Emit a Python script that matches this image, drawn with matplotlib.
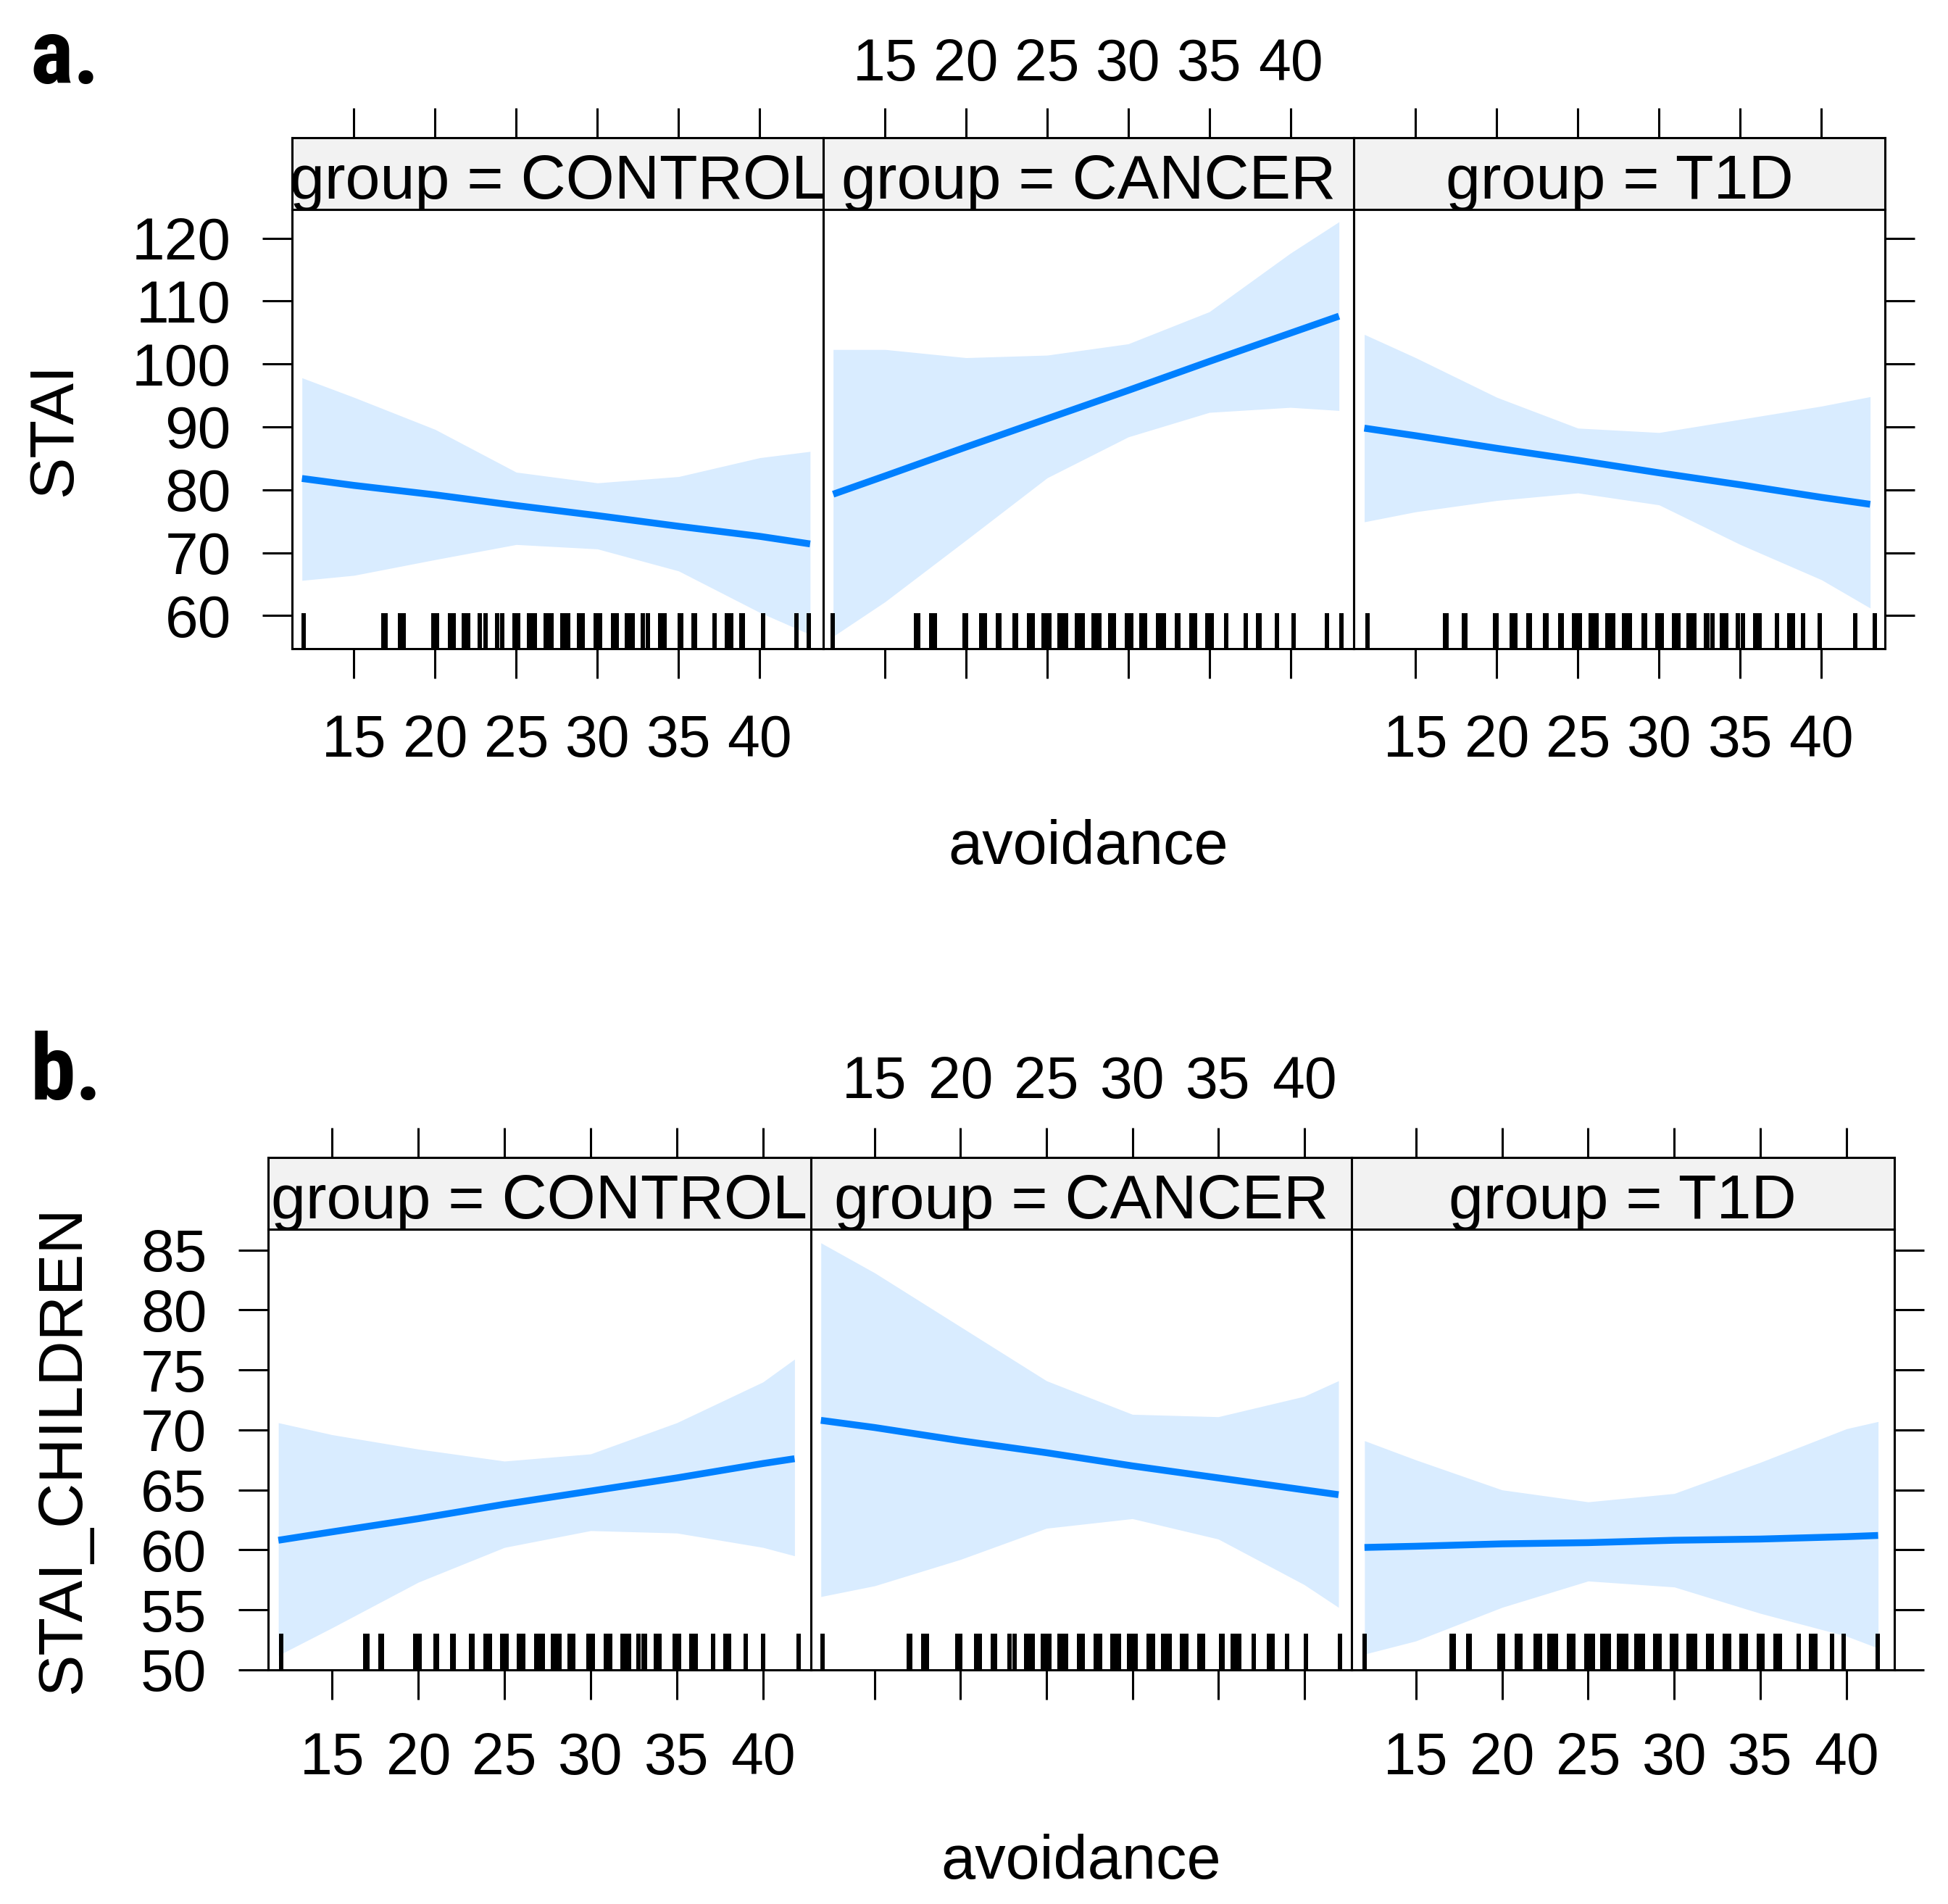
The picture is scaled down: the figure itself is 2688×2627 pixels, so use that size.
import matplotlib
matplotlib.use("Agg")
import matplotlib.pyplot as plt
from matplotlib import font_manager

plt.rcParams['font.family'] = ['Liberation Sans', 'DejaVu Sans']

# ---- data ---------------------------------------------------------------
groups = ["CONTROL", "CANCER", "T1D"]

# a. STAI ~ avoidance
stai_control_x = [11.8, 15, 20, 25, 30, 35, 40, 43.1]
stai_control_fit = [81.8, 80.7, 79.2, 77.5, 75.9, 74.2, 72.6, 71.4]
stai_control_lo = [65.6, 66.4, 68.9, 71.3, 70.6, 67.1, 60.5, 57.0]
stai_control_hi = [97.8, 94.7, 89.6, 82.8, 81.1, 82.1, 85.1, 86.1]

stai_cancer_x = [11.8, 15, 20, 25, 30, 35, 40, 43.0]
stai_cancer_fit = [79.3, 82.2, 86.8, 91.3, 95.8, 100.4, 104.9, 107.6]
stai_cancer_lo = [56.7, 62.2, 72.0, 81.9, 88.4, 92.3, 93.1, 92.6]
stai_cancer_hi = [102.3, 102.3, 101.0, 101.4, 103.2, 108.3, 117.6, 122.6]

stai_t1d_x = [11.84, 15, 20, 25, 30, 35, 40, 43.0]
stai_t1d_fit = [89.8, 88.6, 86.6, 84.7, 82.7, 80.8, 78.8, 77.7]
stai_t1d_lo = [74.9, 76.5, 78.3, 79.5, 77.6, 71.3, 65.7, 61.2]
stai_t1d_hi = [104.7, 101.0, 94.7, 89.8, 89.1, 91.2, 93.3, 94.8]

stai_control_rug = [11.91, 16.83, 16.93, 17.82, 18.06, 19.88, 20.12, 20.90, 21.14,
                    21.75, 22.03, 22.77, 23.11, 23.81, 24.13, 24.88, 25.12,
                    25.79, 25.97, 26.15, 26.81, 26.99, 27.17, 27.85, 28.03, 28.21,
                    28.86, 29.10, 29.90, 30.14, 30.96, 31.20, 31.81, 31.99, 32.17,
                    32.79, 33.11, 33.88, 34.12, 35.05, 35.15, 35.92, 36.02, 37.22,
                    37.99, 38.23, 38.86, 38.96, 40.19, 42.27, 43.0]
stai_cancer_rug = [11.77, 16.92, 17.04, 17.84, 18.08, 19.90, 20.0, 20.93, 21.17,
                   21.95, 22.05, 22.99, 23.09, 23.88, 24.12, 24.77, 24.95, 25.13,
                   25.78, 25.88, 26.16, 26.82, 27.0, 27.18, 27.86, 28.04, 28.22,
                   28.87, 29.11, 29.93, 30.17, 30.80, 31.04, 31.84, 32.02, 32.20,
                   32.99, 33.09, 33.89, 34.13, 34.89, 35.13, 36.05, 37.24, 38.01,
                   38.11, 39.19, 40.20, 42.26, 43.15]
stai_t1d_rug = [12.06, 16.81, 16.91, 17.98, 18.08, 19.88, 19.98, 20.92, 21.16,
                21.94, 22.04, 22.98, 23.08, 23.89, 23.99, 24.75, 24.93, 25.11,
                25.79, 25.97, 26.15, 26.81, 26.99, 27.17, 27.85, 27.95, 28.20,
                29.04, 29.14, 29.90, 30.14, 30.94, 31.18, 31.83, 32.01, 32.19,
                32.87, 32.97, 33.29, 33.88, 34.12, 34.85, 35.17, 35.94, 36.18,
                37.27, 38.01, 38.25, 38.87, 39.89, 42.09, 43.28]

# b. STAI_CHILDREN ~ avoidance
child_control_x = [11.88, 15, 20, 25, 30, 35, 40, 41.83]
child_control_fit = [60.8, 61.5, 62.6, 63.8, 64.9, 66.0, 67.2, 67.6]
child_control_lo = [51.2, 53.5, 57.3, 60.2, 61.6, 61.4, 60.2, 59.5]
child_control_hi = [70.6, 69.6, 68.4, 67.4, 68.0, 70.6, 74.0, 75.9]

child_cancer_x = [11.87, 15, 20, 25, 30, 35, 40, 42.0]
child_cancer_fit = [70.8, 70.2, 69.1, 68.1, 67.0, 66.0, 65.0, 64.6]
child_cancer_lo = [56.1, 57.0, 59.2, 61.8, 62.6, 60.9, 57.1, 55.2]
child_cancer_hi = [85.6, 83.1, 78.6, 74.1, 71.3, 71.1, 72.8, 74.1]

child_t1d_x = [12.02, 15, 20, 25, 30, 35, 40, 41.83]
child_t1d_fit = [60.2, 60.3, 60.5, 60.6, 60.8, 60.9, 61.1, 61.2]
child_t1d_lo = [51.3, 52.4, 55.2, 57.4, 56.9, 54.7, 52.8, 51.8]
child_t1d_hi = [69.1, 67.5, 65.0, 64.0, 64.7, 67.3, 70.1, 70.7]

child_control_rug = [12.06, 16.94, 17.04, 17.79, 17.89, 19.82, 20.09, 20.99, 21.09,
                     21.97, 22.07, 23.06, 23.16, 23.90, 24.14, 24.88, 25.12,
                     25.85, 26.09, 26.83, 27.02, 27.21, 27.81, 28.0, 28.19,
                     28.77, 29.01, 29.88, 30.12, 30.88, 31.12, 31.84, 32.03, 32.22,
                     32.76, 33.05, 33.17, 33.77, 34.01, 34.87, 35.12, 35.86, 36.09,
                     37.10, 37.81, 38.05, 39.01, 40.0, 42.07]
child_cancer_rug = [11.95, 16.97, 17.07, 17.85, 18.05, 19.80, 20.0, 20.91, 21.11,
                    21.89, 21.99, 22.83, 23.13, 23.83, 24.02, 24.21, 24.81, 25.0,
                    25.19, 25.78, 25.97, 26.16, 26.89, 27.13, 27.89, 28.13,
                    28.86, 29.05, 29.24, 29.81, 30.0, 30.19, 30.96, 31.20,
                    31.79, 31.98, 32.17, 32.89, 33.16, 33.89, 34.13, 35.15, 35.25,
                    35.84, 36.03, 36.22, 37.07, 37.93, 38.17, 39.0, 40.12, 42.1]
child_t1d_rug = [12.04, 17.08, 17.18, 18.03, 18.13, 19.87, 20.07, 20.86, 21.06,
                 21.95, 22.20, 22.77, 22.87, 23.15, 23.88, 24.12, 24.89, 25.08,
                 25.27, 25.82, 26.01, 26.20, 26.81, 27.0, 27.19, 27.79, 27.98,
                 28.17, 28.91, 29.15, 29.86, 30.10, 30.83, 31.02, 31.21, 31.95,
                 32.19, 32.93, 33.17, 33.90, 34.14, 34.89, 35.13, 35.87, 36.11,
                 37.23, 37.93, 38.17, 39.17, 39.83, 41.80]

x_ticks = [15, 20, 25, 30, 35, 40]
stai_ticks = [60, 70, 80, 90, 100, 110, 120]
child_ticks = [50, 55, 60, 65, 70, 75, 80, 85]

# ---- layout (pixels of the 2688 x 2627 canvas) ---------------------------
W, H = 2688, 2627
BAND = '#d9ecff'
LINE = '#0080ff'
STRIP = '#f2f2f2'
LW = 2.2
TICKLEN = 29.5


def have_font(name):
    try:
        font_manager.findfont(font_manager.FontProperties(family=name),
                              fallback_to_default=False)
        return True
    except ValueError:
        return False


# the panel letters are set in a narrow bold face in the original
letter_font, letter_size = 'Liberation Sans', 86
for cand in ['Liberation Sans Narrow', 'Roboto Condensed', 'Open Sans Condensed']:
    if have_font(cand):
        letter_font, letter_size = cand, 91
        break

blocks = [
    dict(letter='a.', letter_y=115, ylabel='STAI', ylabel_px=116,
         cols=[403, 1136, 1868, 2601], strip_top=189.6, top=289, bottom=895.5,
         xlim=(11.19, 43.91), ylim=(54.69, 124.56), yticks=stai_ticks,
         xlabel_y=1192, top_pad=15, bottom_pad=35,
         panels=[(stai_control_x, stai_control_fit, stai_control_lo, stai_control_hi, stai_control_rug),
                 (stai_cancer_x, stai_cancer_fit, stai_cancer_lo, stai_cancer_hi, stai_cancer_rug),
                 (stai_t1d_x, stai_t1d_fit, stai_t1d_lo, stai_t1d_hi, stai_t1d_rug)]),
    dict(letter='b.', letter_y=1517, ylabel='STAI_CHILDREN', ylabel_px=128,
         cols=[369.6, 1118.5, 1865, 2613.7], strip_top=1597, top=1695.8, bottom=2303.8,
         xlim=(11.27, 42.76), ylim=(50, 86.75), yticks=child_ticks,
         xlabel_y=2592, top_pad=17, bottom_pad=32,
         panels=[(child_control_x, child_control_fit, child_control_lo, child_control_hi, child_control_rug),
                 (child_cancer_x, child_cancer_fit, child_cancer_lo, child_cancer_hi, child_cancer_rug),
                 (child_t1d_x, child_t1d_fit, child_t1d_lo, child_t1d_hi, child_t1d_rug)]),
]


def box(x0, x1, y0, y1):
    return [x0 / W, 1 - y1 / H, (x1 - x0) / W, (y1 - y0) / H]


fig = plt.figure(figsize=(W / 100, H / 100), dpi=100)

for b in blocks:
    cols = b['cols']
    for i, (xs, fit, lo, hi, rug) in enumerate(b['panels']):
        ax = fig.add_axes(box(cols[i], cols[i + 1], b['top'], b['bottom']))
        st = fig.add_axes(box(cols[i], cols[i + 1], b['strip_top'], b['top']))

        # confidence band, fitted line, rug
        ax.fill_between(xs, lo, hi, color=BAND, lw=0, zorder=1)
        ax.plot(xs, fit, color=LINE, lw=6.8, solid_capstyle='butt', zorder=2)
        ax.vlines(rug, 0, 0.082, transform=ax.get_xaxis_transform(),
                  color='black', lw=3.0, antialiased=False, zorder=3)

        ax.set_xlim(*b['xlim'])
        ax.set_ylim(*b['ylim'])
        ax.set_xticks(x_ticks)
        ax.set_yticks(b['yticks'])
        ax.tick_params(axis='x', direction='out', length=TICKLEN, width=LW,
                       labelsize=58, pad=b['bottom_pad'], labelbottom=(i != 1))
        ax.tick_params(axis='y', direction='out', length=TICKLEN, width=LW,
                       labelsize=59, pad=31,
                       left=(i == 0), labelleft=(i == 0), right=(i == 2), labelright=False)
        for s in ax.spines.values():
            s.set_linewidth(LW)
        if i == 0:
            ax.set_ylabel(b['ylabel'], fontsize=62)
            ax.yaxis.set_label_coords((b['ylabel_px'] - cols[0]) / (cols[1] - cols[0]), 0.5)

        # strip with the group name, ticks on top
        st.set_facecolor(STRIP)
        st.set_xlim(*b['xlim'])
        st.set_ylim(0, 1)
        st.set_xticks(x_ticks)
        st.set_yticks([])
        st.tick_params(axis='x', direction='out', length=TICKLEN, width=LW,
                       labelsize=58, pad=b['top_pad'],
                       bottom=False, labelbottom=False, top=True, labeltop=(i == 1))
        for s in st.spines.values():
            s.set_linewidth(LW)
        st.text(0.5, 0.15, f"group = {groups[i]}", transform=st.transAxes,
                ha='center', va='baseline', fontsize=62, clip_on=True)

    mid = (cols[0] + cols[-1]) / 2
    fig.text(mid / W, 1 - b['xlabel_y'] / H, 'avoidance', ha='center', va='baseline', fontsize=61)
    fig.text(42 / W, 1 - b['letter_y'] / H, b['letter'], ha='left', va='baseline',
             fontsize=letter_size, fontweight='bold', family=letter_font)

fig.savefig('out.png', dpi=100, facecolor='white')
